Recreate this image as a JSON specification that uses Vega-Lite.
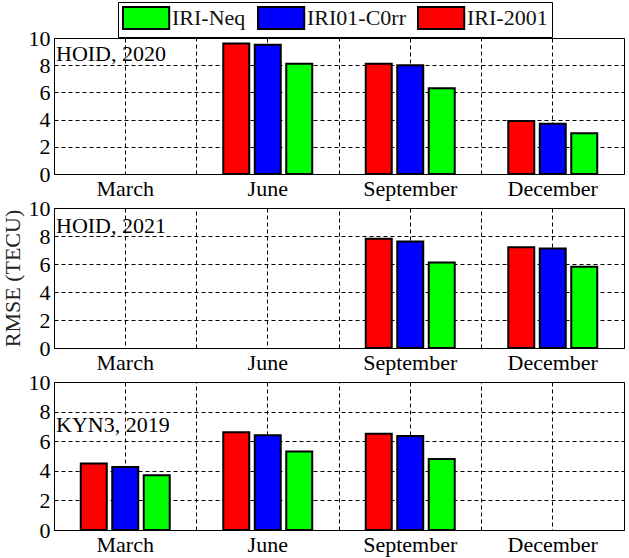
{
  "$schema": "https://vega.github.io/schema/vega-lite/v6.json",
  "padding": {"left": 0, "top": 1, "right": 3, "bottom": 2},
  "background": "white",
  "datasets": {
    "rmse": [
      {"panel": "HOID, 2020", "month": "June", "model": "IRI-2001", "rmse": 9.6},
      {"panel": "HOID, 2020", "month": "June", "model": "IRI01-C0rr", "rmse": 9.5},
      {"panel": "HOID, 2020", "month": "June", "model": "IRI-Neq", "rmse": 8.1},
      {"panel": "HOID, 2020", "month": "September", "model": "IRI-2001", "rmse": 8.1},
      {"panel": "HOID, 2020", "month": "September", "model": "IRI01-C0rr", "rmse": 8.0},
      {"panel": "HOID, 2020", "month": "September", "model": "IRI-Neq", "rmse": 6.3},
      {"panel": "HOID, 2020", "month": "December", "model": "IRI-2001", "rmse": 3.9},
      {"panel": "HOID, 2020", "month": "December", "model": "IRI01-C0rr", "rmse": 3.7},
      {"panel": "HOID, 2020", "month": "December", "model": "IRI-Neq", "rmse": 3.0},
      {"panel": "HOID, 2021", "month": "September", "model": "IRI-2001", "rmse": 7.8},
      {"panel": "HOID, 2021", "month": "September", "model": "IRI01-C0rr", "rmse": 7.6},
      {"panel": "HOID, 2021", "month": "September", "model": "IRI-Neq", "rmse": 6.1},
      {"panel": "HOID, 2021", "month": "December", "model": "IRI-2001", "rmse": 7.2},
      {"panel": "HOID, 2021", "month": "December", "model": "IRI01-C0rr", "rmse": 7.1},
      {"panel": "HOID, 2021", "month": "December", "model": "IRI-Neq", "rmse": 5.8},
      {"panel": "KYN3, 2019", "month": "March", "model": "IRI-2001", "rmse": 4.5},
      {"panel": "KYN3, 2019", "month": "March", "model": "IRI01-C0rr", "rmse": 4.25},
      {"panel": "KYN3, 2019", "month": "March", "model": "IRI-Neq", "rmse": 3.7},
      {"panel": "KYN3, 2019", "month": "June", "model": "IRI-2001", "rmse": 6.6},
      {"panel": "KYN3, 2019", "month": "June", "model": "IRI01-C0rr", "rmse": 6.4},
      {"panel": "KYN3, 2019", "month": "June", "model": "IRI-Neq", "rmse": 5.3},
      {"panel": "KYN3, 2019", "month": "September", "model": "IRI-2001", "rmse": 6.5},
      {"panel": "KYN3, 2019", "month": "September", "model": "IRI01-C0rr", "rmse": 6.35},
      {"panel": "KYN3, 2019", "month": "September", "model": "IRI-Neq", "rmse": 4.8}
    ],
    "labels": [
      {"panel": "HOID, 2020", "label": "HOID, 2020"},
      {"panel": "HOID, 2021", "label": "HOID, 2021"},
      {"panel": "KYN3, 2019", "label": "KYN3, 2019"}
    ]
  },
  "config": {
    "font": "Liberation Serif",
    "view": {"stroke": "black", "strokeWidth": 1},
    "axis": {
      "labelFont": "Liberation Serif", "labelFontSize": 22, "labelColor": "black",
      "gridColor": "black", "gridDash": [4, 3], "gridOpacity": 1, "gridWidth": 1,
      "domain": false, "ticks": false, "labelPadding": 4, "labelOverlap": false,
      "titleFont": "Liberation Serif", "titleFontSize": 22, "titleFontWeight": "normal", "titleColor": "#222"
    },
    "axisY": {"values": [0, 2, 4, 6, 8, 10], "tickCount": 6},
    "legend": {
      "labelFont": "Liberation Serif", "labelFontSize": 22, "labelColor": "#111"
    }
  },
  "bounds": "flush",
  "spacing": 34,
  "vconcat": [
    {
      "width": 570, "height": 136,
      "layer": [
        {
          "data": {"name": "rmse"},
          "transform": [{"filter": "datum.panel === 'HOID, 2020'"}],
          "mark": {"type": "bar", "stroke": "black", "strokeWidth": 2},
          "encoding": {
            "x": {"field": "month", "type": "nominal", "sort": null,
              "scale": {"domain": ["March", "June", "September", "December"], "paddingInner": 0, "paddingOuter": 0},
              "axis": {"title": null, "labelAngle": 0, "grid": true}},
            "xOffset": {"field": "model", "type": "nominal",
              "scale": {"domain": ["IRI-2001", "IRI01-C0rr", "IRI-Neq"], "paddingInner": 0.175, "paddingOuter": 0.85}},
            "y": {"field": "rmse", "type": "quantitative", "scale": {"domain": [0, 10], "nice": false},
              "axis": {"values": [0, 2, 4, 6, 8, 10], "title": null}},
            "color": {"field": "model", "type": "nominal",
              "scale": {"domain": ["IRI-Neq", "IRI01-C0rr", "IRI-2001"], "range": ["#00ff00", "#0000ff", "#ff0000"]},
              "legend": {
                "title": null, "orient": "none", "direction": "horizontal",
                "legendX": 64, "legendY": -36,
                "symbolType": "M-1,-1H3.2V1H-1Z", "symbolSize": 484,
                "symbolStrokeColor": "black", "symbolStrokeWidth": 2, "symbolOpacity": 1,
                "labelOffset": 26, "columnPadding": 8, "padding": 4,
                "strokeColor": "black", "fillColor": "white"
              }}
          }
        },
        {
          "data": {"name": "labels"},
          "transform": [{"filter": "datum.panel === 'HOID, 2020'"}],
          "mark": {"type": "text", "align": "left", "baseline": "middle", "dx": 2, "font": "Liberation Serif", "fontSize": 22, "color": "black"},
          "encoding": {
            "x": {"datum": "March", "type": "nominal", "bandPosition": 0,
              "axis": {"orient": "top", "labels": false, "ticks": false, "domain": false, "grid": true, "bandPosition": 0, "title": null}},
            "y": {"datum": 8.8, "type": "quantitative", "axis": {"values": [0, 2, 4, 6, 8, 10], "title": null}},
            "text": {"field": "label"}
          }
        }
      ],
      "resolve": {"axis": {"x": "independent"}}
    },
    {
      "width": 570, "height": 140,
      "layer": [
        {
          "data": {"name": "rmse"},
          "transform": [{"filter": "datum.panel === 'HOID, 2021'"}],
          "mark": {"type": "bar", "stroke": "black", "strokeWidth": 2},
          "encoding": {
            "x": {"field": "month", "type": "nominal", "sort": null,
              "scale": {"domain": ["March", "June", "September", "December"], "paddingInner": 0, "paddingOuter": 0},
              "axis": {"title": null, "labelAngle": 0, "grid": true}},
            "xOffset": {"field": "model", "type": "nominal",
              "scale": {"domain": ["IRI-2001", "IRI01-C0rr", "IRI-Neq"], "paddingInner": 0.175, "paddingOuter": 0.85}},
            "y": {"field": "rmse", "type": "quantitative", "scale": {"domain": [0, 10], "nice": false},
              "axis": {"values": [0, 2, 4, 6, 8, 10], "title": "RMSE (TECU)", "titlePadding": 4}},
            "color": {"field": "model", "type": "nominal",
              "scale": {"domain": ["IRI-Neq", "IRI01-C0rr", "IRI-2001"], "range": ["#00ff00", "#0000ff", "#ff0000"]}}
          }
        },
        {
          "data": {"name": "labels"},
          "transform": [{"filter": "datum.panel === 'HOID, 2021'"}],
          "mark": {"type": "text", "align": "left", "baseline": "middle", "dx": 2, "font": "Liberation Serif", "fontSize": 22, "color": "black"},
          "encoding": {
            "x": {"datum": "March", "type": "nominal", "bandPosition": 0,
              "axis": {"orient": "top", "labels": false, "ticks": false, "domain": false, "grid": true, "bandPosition": 0, "title": null}},
            "y": {"datum": 8.7, "type": "quantitative", "axis": {"values": [0, 2, 4, 6, 8, 10], "title": "RMSE (TECU)", "titlePadding": 4}},
            "text": {"field": "label"}
          }
        }
      ],
      "resolve": {"axis": {"x": "independent"}}
    },
    {
      "width": 570, "height": 148,
      "layer": [
        {
          "data": {"name": "rmse"},
          "transform": [{"filter": "datum.panel === 'KYN3, 2019'"}],
          "mark": {"type": "bar", "stroke": "black", "strokeWidth": 2},
          "encoding": {
            "x": {"field": "month", "type": "nominal", "sort": null,
              "scale": {"domain": ["March", "June", "September", "December"], "paddingInner": 0, "paddingOuter": 0},
              "axis": {"title": null, "labelAngle": 0, "grid": true}},
            "xOffset": {"field": "model", "type": "nominal",
              "scale": {"domain": ["IRI-2001", "IRI01-C0rr", "IRI-Neq"], "paddingInner": 0.175, "paddingOuter": 0.85}},
            "y": {"field": "rmse", "type": "quantitative", "scale": {"domain": [0, 10], "nice": false},
              "axis": {"values": [0, 2, 4, 6, 8, 10], "title": null}},
            "color": {"field": "model", "type": "nominal",
              "scale": {"domain": ["IRI-Neq", "IRI01-C0rr", "IRI-2001"], "range": ["#00ff00", "#0000ff", "#ff0000"]}}
          }
        },
        {
          "data": {"name": "labels"},
          "transform": [{"filter": "datum.panel === 'KYN3, 2019'"}],
          "mark": {"type": "text", "align": "left", "baseline": "middle", "dx": 2, "font": "Liberation Serif", "fontSize": 22, "color": "black"},
          "encoding": {
            "x": {"datum": "March", "type": "nominal", "bandPosition": 0,
              "axis": {"orient": "top", "labels": false, "ticks": false, "domain": false, "grid": true, "bandPosition": 0, "title": null}},
            "y": {"datum": 7.1, "type": "quantitative", "axis": {"values": [0, 2, 4, 6, 8, 10], "title": null}},
            "text": {"field": "label"}
          }
        }
      ],
      "resolve": {"axis": {"x": "independent"}}
    }
  ]
}
